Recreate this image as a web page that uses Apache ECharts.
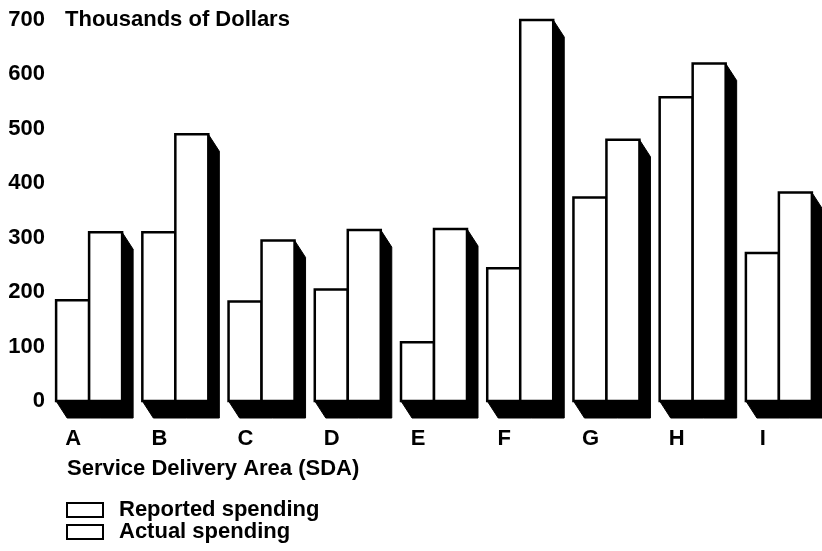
<!DOCTYPE html>
<html>
<head>
<meta charset="utf-8">
<script src="https://cdn.jsdelivr.net/npm/echarts@6/dist/echarts.min.js"></script>
<style>
  html, body { margin: 0; padding: 0; background: #fff; }
  #main { width: 822px; height: 551px; }
</style>
</head>
<body>
<div id="main"></div>
<script>
var categories = ['A', 'B', 'C', 'D', 'E', 'F', 'G', 'H', 'I'];
var reported = [185, 310, 183, 205, 108, 244, 374, 558, 272];
var actual = [310, 490, 295, 314, 316, 700, 480, 620, 383];
var yTicks = [0, 100, 200, 300, 400, 500, 600, 700];

var font = '"Liberation Sans", Arial, sans-serif';
var depthX = 11, depthY = 17, barW = 33;

// front face + dark extruded side/bottom
function bar3d(side) {
    return function (params, api) {
        var base = api.coord([api.value(0), 0]);
        var top = api.coord([api.value(0), api.value(1)]);
        var xl = side === 'left' ? base[0] - barW : base[0];
        var xr = xl + barW;
        var yt = top[1], yb = base[1];
        return {
            type: 'group',
            children: [{
                type: 'polygon',
                shape: { points: [[xr, yt], [xr + depthX, yt + depthY], [xr + depthX, yb + depthY],
                    [xl + depthX, yb + depthY], [xl, yb]] },
                style: { fill: '#000', stroke: '#000', lineWidth: 1 }
            }, {
                type: 'rect',
                shape: { x: xl, y: yt, width: barW, height: yb - yt },
                style: { fill: '#fff', stroke: '#000', lineWidth: 2.5 }
            }]
        };
    };
}

var myChart = echarts.init(document.getElementById('main'));
var option = {
    animation: false,
    backgroundColor: '#fff',
    title: {
        text: 'Thousands of Dollars',
        left: 60, top: 4,
        textStyle: { fontFamily: font, fontSize: 22, fontWeight: 'bold', color: '#000' }
    },
    legend: {
        orient: 'vertical',
        left: 66, top: 499,
        padding: 0,
        itemWidth: 36, itemHeight: 14, itemGap: 0,
        icon: 'rect',
        selectedMode: false,
        textStyle: { fontFamily: font, fontSize: 22, fontWeight: 'bold', color: '#000',
            lineHeight: 21, padding: [0, 0, 0, 11] },
        data: [
            { name: 'Reported spending', itemStyle: { color: '#fff', borderColor: '#000', borderWidth: 2 } },
            { name: 'Actual spending', itemStyle: { color: '#fff', borderColor: '#000', borderWidth: 2 } }
        ]
    },
    graphic: [{
        type: 'text',
        left: 67, top: 458,
        style: { text: 'Service Delivery Area (SDA)', font: 'bold 22px ' + font, fill: '#000' }
    }],
    grid: { left: 46, top: 20, width: 778, bottom: 150 },
    xAxis: {
        type: 'category',
        data: categories,
        axisLine: { show: false },
        axisTick: { show: false },
        axisLabel: { fontFamily: font, fontSize: 22, fontWeight: 'bold', color: '#000',
            margin: 27, padding: [0, 32, 0, 0] }
    },
    yAxis: {
        type: 'value',
        min: 0, max: 700, interval: 100,
        axisLine: { show: false },
        axisTick: { show: false },
        splitLine: { show: false },
        axisLabel: {
            fontFamily: font, fontSize: 22, fontWeight: 'bold', color: '#000', margin: 1,
            formatter: function (v) { return yTicks.indexOf(v) >= 0 ? String(v) : ''; }
        }
    },
    series: [{
        name: 'Reported spending',
        type: 'custom',
        renderItem: bar3d('left'),
        itemStyle: { color: '#fff', borderColor: '#000' },
        data: reported.map(function (v, i) { return [i, v]; })
    }, {
        name: 'Actual spending',
        type: 'custom',
        renderItem: bar3d('right'),
        itemStyle: { color: '#fff', borderColor: '#000' },
        data: actual.map(function (v, i) { return [i, v]; })
    }]
};
myChart.setOption(option);
</script>
</body>
</html>
